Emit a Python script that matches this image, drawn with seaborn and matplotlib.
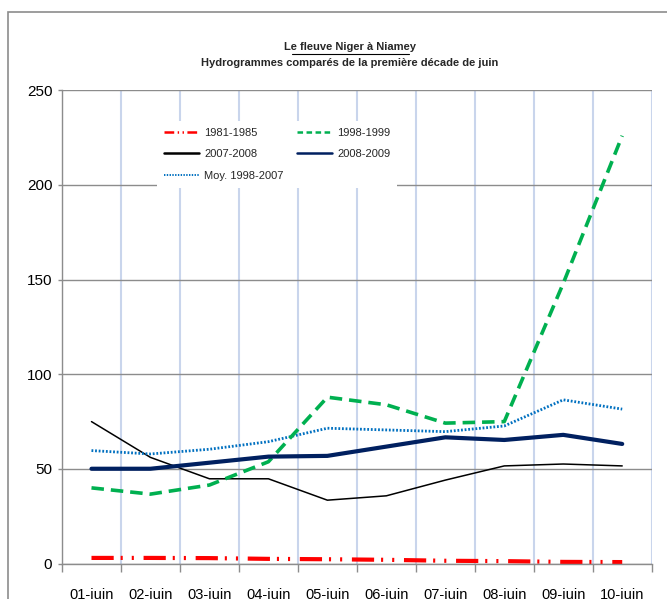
import numpy as np
import pandas as pd
import seaborn as sns
import matplotlib
matplotlib.use("Agg")
import matplotlib.pyplot as plt
from matplotlib.lines import Line2D
from matplotlib.patches import Rectangle

# data
days = ["01-juin", "02-juin", "03-juin", "04-juin", "05-juin",
        "06-juin", "07-juin", "08-juin", "09-juin", "10-juin"]
q_1981_1985 = [3.0, 3.0, 2.9, 2.5, 2.3, 2.0, 1.5, 1.3, 0.9, 0.8]
q_1998_1999 = [40.0, 36.7, 41.5, 53.8, 87.9, 83.9, 74.2, 75.0, 148.0, 226.0]
q_2007_2008 = [75.0, 56.1, 44.8, 44.8, 33.5, 35.8, 44.1, 51.6, 52.6, 51.6]
q_2008_2009 = [50.1, 50.1, 53.3, 56.5, 56.9, 61.8, 66.7, 65.3, 68.0, 63.2]
q_moy_1998_2007 = [59.7, 57.9, 60.4, 64.4, 71.5, 70.6, 69.7, 72.7, 86.5, 81.6]

yticks = [0, 50, 100, 150, 200, 250]

# name, values, style on the chart, dash pattern in the legend
series = [
    ("1981-1985", q_1981_1985,
     dict(color="#ff0000", lw=3.0, dashes=(16, 5, 1.5, 6.5, 1.5, 7)), (7, 2.5, 1, 2.5, 1, 2.5)),
    ("2007-2008", q_2007_2008, dict(color="#000000", lw=1.1, dashes=None), None),
    ("Moy. 1998-2007", q_moy_1998_2007, dict(color="#0070c0", lw=2.0, dashes=(1.3, 1.3)), (1, 1)),
    ("1998-1999", q_1998_1999, dict(color="#00b050", lw=2.6, dashes=(9, 5)), (4, 2.5)),
    ("2008-2009", q_2008_2009, dict(color="#002060", lw=3.0, dashes=None), None),
]

sns.set_theme(style="white")
plt.rcParams["font.family"] = ["Liberation Sans", "DejaVu Sans"]
plt.rcParams["lines.scale_dashes"] = False

fig = plt.figure(figsize=(6.67, 5.99), dpi=100)
fig.patch.set_facecolor("white")
ax = fig.add_axes([62 / 667, 35.4 / 599, (651.7 - 62) / 667, (563.6 - 90.3) / 599])

# chart frame (cut off at right and bottom like the screenshot)
fig.add_artist(Rectangle((8 / 667, -0.05), 1.2, (599 - 12) / 599 + 0.05,
                         transform=fig.transFigure, fill=False,
                         edgecolor="#8c8c8c", lw=1.2, clip_on=False))

leg_handles = []
for name, vals, st, leg_dash in series:
    df = pd.DataFrame({"jour": days, "debit": vals})
    sns.lineplot(data=df, x="jour", y="debit", ax=ax, color=st["color"],
                 linewidth=st["lw"], sort=False, legend=False)
    line = ax.get_lines()[-1]
    if st["dashes"] is not None:
        line.set_dashes(st["dashes"])
        line.set_dash_capstyle("butt")
    h = Line2D([], [], color=st["color"], lw=1.8 if name != "Moy. 1998-2007" else 1.4)
    if leg_dash is not None:
        h.set_dashes(leg_dash)
        h.set_dash_capstyle("butt")
    leg_handles.append(h)

ax.set_xlim(-0.5, len(days) - 0.5)
ax.set_ylim(0, 250)
ax.set_xlabel("")
ax.set_ylabel("")

# vertical grid at category boundaries, labels at centres
ax.set_xticks(np.arange(-0.5, len(days), 1))
ax.set_xticklabels([])
ax.set_xticks(range(len(days)), labels=days, minor=True)
ax.tick_params(axis="x", which="major", direction="out", length=6,
               width=1, color="#8c8c8c", bottom=True)
ax.tick_params(axis="x", which="minor", length=0, pad=17.5, labelsize=10.5,
               labelcolor="#000000")
ax.set_yticks(yticks)
ax.tick_params(axis="y", direction="out", length=3, width=1, color="#8c8c8c",
               left=True, pad=4, labelsize=11, labelcolor="#000000")

ax.grid(axis="x", which="major", color="#c9d5ec", lw=1.5)
ax.grid(axis="y", color="#8c8c8c", lw=1.0)
ax.set_axisbelow(True)
for s in ["top", "right"]:
    ax.spines[s].set_visible(False)
for s in ["left", "bottom"]:
    ax.spines[s].set_color("#8c8c8c")
    ax.spines[s].set_linewidth(1.0)

fig.legend(handles=leg_handles, labels=[s[0] for s in series], ncol=2,
           loc="upper left", bbox_to_anchor=(157 / 667, 1 - 121 / 599),
           frameon=True, facecolor="white", edgecolor="none", framealpha=1,
           fancybox=False, borderpad=0.6, borderaxespad=0,
           handlelength=3.2, handletextpad=0.45, columnspacing=1.2,
           labelspacing=1.05, prop={"size": 8})

fig.text(350 / 667, 1 - 47 / 599, "Le fleuve Niger à Niamey", ha="center",
         va="center", fontsize=8, fontweight="bold")
fig.text(350 / 667, 1 - 63 / 599, "Hydrogrammes comparés de la première décade de juin",
         ha="center", va="center", fontsize=8, fontweight="bold")
# underline of the title
fig.add_artist(Line2D([292 / 667, 409 / 667], [1 - 53.5 / 599, 1 - 53.5 / 599],
                      transform=fig.transFigure, color="black", lw=0.8))

fig.savefig("out.png", dpi=100)
